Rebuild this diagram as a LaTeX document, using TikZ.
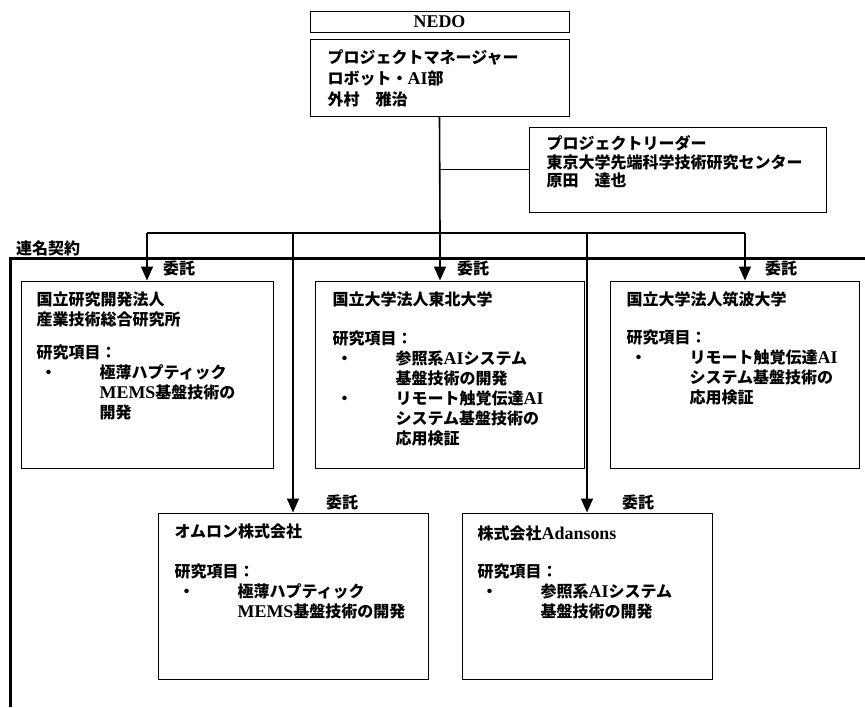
\documentclass[tikz,border=0pt]{standalone}
\usepackage{fontspec}
\newfontfamily\jpfont{Noto Sans CJK JP}
\newfontfamily\latfont{Liberation Serif}[Scale=1.12]
\usetikzlibrary{arrows.meta}
\newcommand\en[1]{{\latfont #1}}
\newcommand\itm{\makebox[63pt][l]{\hspace{4pt}・}}
\newcommand\ind{\hspace*{63pt}}

\begin{document}
\begin{tikzpicture}[x=1pt,y=-1pt,
  box/.style={draw,line width=1pt,inner sep=0pt},
  txt/.style={anchor=north west,inner sep=0pt,align=left},
  lbl/.style={anchor=west,inner sep=0pt},
  link/.style={line width=1.6pt},
  frame/.style={line width=3pt},
  >={Triangle[length=14pt,width=12pt]},
  font=\jpfont\bfseries\fontsize{16}{20}\selectfont]
\useasboundingbox (0,0) rectangle (865,707);
 % boxes
  \node[box,minimum width=259pt,minimum height=21pt] (nedo) at (439.5,21.5) {\en{NEDO}};
  \node[box,minimum width=259pt,minimum height=77pt] (pm) at (439.5,77.5) {};
  \node[box,minimum width=297pt,minimum height=85pt] (pl) at (677.5,169.5) {};
  \node[box,minimum width=252pt,minimum height=187pt] (aist) at (147,374.5) {};
  \node[box,minimum width=269pt,minimum height=187pt] (tohoku) at (449.5,374.5) {};
  \node[box,minimum width=249pt,minimum height=187pt] (tsukuba) at (734.5,374.5) {};
  \node[box,minimum width=270pt,minimum height=166pt] (omron) at (293,596) {};
  \node[box,minimum width=250pt,minimum height=166pt] (adansons) at (587,596) {};
 % texts
  \node[txt] (pmtext) at ([shift={(18,11)}]pm.north west)
    {プロジェクトマネージャー\\[1pt]ロボット・\en{AI}部\\[1pt]外村　雅治};
  \node[txt] (pltext) at ([shift={(18,9)}]pl.north west)
    {プロジェクトリーダー\\[-1.5pt]東京大学先端科学技術研究センター\\[-1.5pt]原田　達也};
  \node[txt] (aisttext) at ([shift={(16,11)}]aist.north west)
    {国立研究開発法人\\産業技術総合研究所\\[13pt]研究項目：\\\itm 極薄ハプティック\\\ind\en{MEMS}基盤技術の\\\ind 開発};
  \node[txt] (tohokutext) at ([shift={(18,11)}]tohoku.north west)
    {国立大学法人東北大学\\[19pt]研究項目：\\\itm 参照系\en{AI}システム\\\ind 基盤技術の開発\\\itm リモート触覚伝達\en{AI}\\\ind システム基盤技術の\\\ind 応用検証};
  \node[txt] (tsukubatext) at ([shift={(17,11)}]tsukuba.north west)
    {国立大学法人筑波大学\\[18pt]研究項目：\\\itm リモート触覚伝達\en{AI}\\\ind システム基盤技術の\\\ind 応用検証};
  \node[txt] (omrontext) at ([shift={(17,11)}]omron.north west)
    {オムロン株式会社\\[20pt]研究項目：\\\itm 極薄ハプティック\\\ind\en{MEMS}基盤技術の開発};
  \node[txt] (adansonstext) at ([shift={(16,13)}]adansons.north west)
    {株式会社\en{Adansons}\\[18pt]研究項目：\\\itm 参照系\en{AI}システム\\\ind 基盤技術の開発};
 % links
  \coordinate (bus) at (440,233);
  \coordinate (busR) at ([xshift=10.5pt]tsukuba.north |- bus);
  \draw[link] (pm.south) -- (bus);
  \draw[link] (pm.south |- pl.west) -- (pl.west);
  \draw[link] (aist.north |- bus) -- (busR);
  \draw[link,->] (aist.north |- bus) -- (aist.north);
  \draw[link,->] (bus) -- (bus |- tohoku.north);
  \draw[link,->] (busR) -- (busR |- tsukuba.north);
  \draw[link,->] (omron.north |- bus) -- (omron.north);
  \draw[link,->] (adansons.north |- bus) -- (adansons.north);
 % labels
  \node[lbl] (l1) at ([shift={(16,-12)}]aist.north) {委託};
  \node[lbl] (l2) at ([shift={(17,-12)}]bus |- tohoku.north) {委託};
  \node[lbl] (l3) at ([shift={(20,-12)}]busR |- tsukuba.north) {委託};
  \node[lbl] (l4) at ([shift={(33,-10)}]omron.north) {委託};
  \node[lbl] (l5) at ([shift={(35,-10)}]adansons.north) {委託};
 % joint contract frame
  \coordinate (frm) at (10,258);
  \draw[frame] (865,258) -- (frm) -- (10,707);
  \node[lbl] (renmei) at ([shift={(6,-10)}]frm) {連名契約};
\end{tikzpicture}
\end{document}
